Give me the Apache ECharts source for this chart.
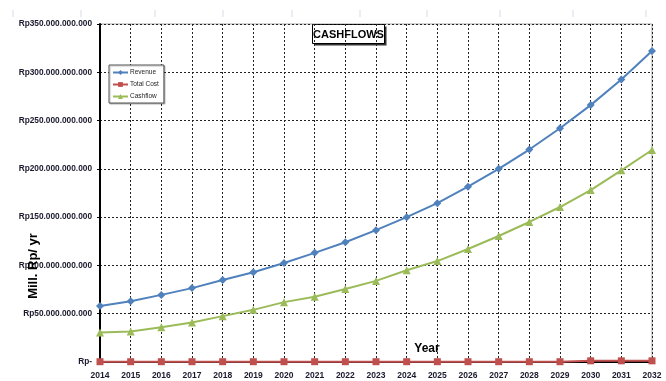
<!DOCTYPE html>
<html>
<head>
<meta charset="utf-8">
<script src="https://cdn.jsdelivr.net/npm/echarts@6/dist/echarts.min.js"></script>
<style>
  html, body { margin: 0; padding: 0; background: #fff; }
  #chart { width: 666px; height: 381px; }
</style>
</head>
<body>
<div id="chart"></div>
<script>
// Years on the horizontal axis
const years = ['2014','2015','2016','2017','2018','2019','2020','2021','2022','2023',
               '2024','2025','2026','2027','2028','2029','2030','2031','2032'];

// Yearly amounts, in billions of Rupiah
const revenue  = [58, 63, 69.5, 76.5, 85, 93, 102.5, 113, 124, 136.5,
                  150, 164.5, 181.5, 200, 220, 242, 266, 292.5, 322];
const totalCost = [0.3, 0.3, 0.3, 0.3, 0.3, 0.3, 0.3, 0.3, 0.3, 0.3,
                   0.3, 0.3, 0.3, 0.3, 0.3, 0.3, 1.2, 1.2, 1.2];
const cashflow = [30.5, 31.5, 36, 41, 47.5, 54, 62, 67.5, 75.5, 84,
                  95, 104.5, 117, 130.5, 145, 160.5, 178, 198.5, 219.5];

// Value-axis tick values, in billions of Rupiah
const yTicks = [0, 50, 100, 150, 200, 250, 300, 350];

function rupiah(billions) {
  if (billions === 0) return 'Rp-';
  const n = Math.round(billions * 1e9).toString();
  return 'Rp' + n.replace(/\B(?=(\d{3})+(?!\d))/g, '.');
}

const chart = echarts.init(document.getElementById('chart'));
const lineW = 2;
const font = 'Liberation Sans, Arial';

// short pale separators along the very top
const topMarks = [13, 81, 155, 223, 292, 360, 427, 500, 573, 646].map(x => ({
  type: 'line',
  shape: { x1: x, y1: 10, x2: x, y2: 17 },
  style: { stroke: '#d6dbe4', lineWidth: 1 },
  silent: true
}));

chart.setOption({
  animation: false,
  backgroundColor: '#ffffff',
  grid: { left: 100, right: 14, top: 24, bottom: 19, show: true,
          borderColor: '#a6a6a6', borderWidth: 1 },
  legend: {
    orient: 'vertical',
    left: 109, top: 65,
    padding: [4, 5, 3, 3],
    itemGap: 5,
    itemWidth: 15, itemHeight: 6,
    backgroundColor: '#fff',
    borderColor: '#555',
    borderWidth: 1,
    shadowColor: 'rgba(0,0,0,0.25)', shadowOffsetX: 1, shadowOffsetY: 1, shadowBlur: 1,
    textStyle: { fontFamily: font, fontSize: 6.5, color: '#1f1f1f', padding: [0, 0, 0, -3] },
    data: ['Revenue', 'Total Cost', 'Cashflow']
  },
  xAxis: {
    type: 'category',
    data: years,
    boundaryGap: false,
    axisLine: { show: true, lineStyle: { color: '#000', width: 2 } },
    axisTick: { show: false },
    axisLabel: { fontFamily: font, fontSize: 8.5, fontWeight: 'bold',
                 color: '#1a1a2e', margin: 9, interval: 0 },
    splitLine: { show: true, lineStyle: { color: '#222', type: [2, 2], width: 1 } }
  },
  yAxis: {
    type: 'value',
    min: yTicks[0], max: yTicks[yTicks.length - 1], interval: 50,
    axisLine: { show: true, lineStyle: { color: '#000', width: 2 } },
    axisTick: { show: true, length: 3, inside: false, lineStyle: { color: '#000', width: 1 } },
    axisLabel: { fontFamily: font, fontSize: 8.3, fontWeight: 'bold',
                 color: '#1a1a2e', margin: 8, formatter: v => rupiah(v) },
    splitLine: { show: true, lineStyle: { color: '#222', type: [2, 2], width: 1 } }
  },
  series: [
    {
      name: 'Revenue', type: 'line', data: revenue,
      symbol: 'diamond', symbolSize: 8,
      itemStyle: { color: '#4F81BD' },
      lineStyle: { color: '#4F81BD', width: lineW }
    },
    {
      name: 'Total Cost', type: 'line', data: totalCost,
      symbol: 'rect', symbolSize: 7,
      itemStyle: { color: '#C0504D' },
      lineStyle: { color: '#C0504D', width: lineW }, z: 1
    },
    {
      name: 'Cashflow', type: 'line', data: cashflow,
      symbol: 'triangle', symbolSize: 8,
      itemStyle: { color: '#9BBB59' },
      lineStyle: { color: '#9BBB59', width: lineW }
    }
  ],
  graphic: [
    ...topMarks,
    {
      type: 'group', left: 312, top: 24,
      children: [
        { type: 'rect', shape: { x: 2, y: 2, width: 72, height: 19 },
          style: { fill: '#333' } },
        { type: 'rect', shape: { x: 0, y: 0, width: 72, height: 19 },
          style: { fill: '#fff', stroke: '#000', lineWidth: 1 } },
        { type: 'text', x: 36, y: 10,
          style: { text: 'CASHFLOWS', fill: '#000', fontFamily: font,
                   fontSize: 11, fontWeight: 'bold', align: 'center', verticalAlign: 'middle' } }
      ]
    },
    {
      type: 'text', x: 33, y: 266, rotation: Math.PI / 2,
      style: { text: 'Mill. Rp/ yr', fill: '#000', fontFamily: font,
               fontSize: 13, fontWeight: 'bold', align: 'center', verticalAlign: 'middle' },
      z: 10
    },
    {
      type: 'text', x: 427, y: 349,
      style: { text: 'Year', fill: '#000', fontFamily: font,
               fontSize: 12, fontWeight: 'bold', align: 'center', verticalAlign: 'middle' },
      z: 10
    }
  ]
});
</script>
</body>
</html>
